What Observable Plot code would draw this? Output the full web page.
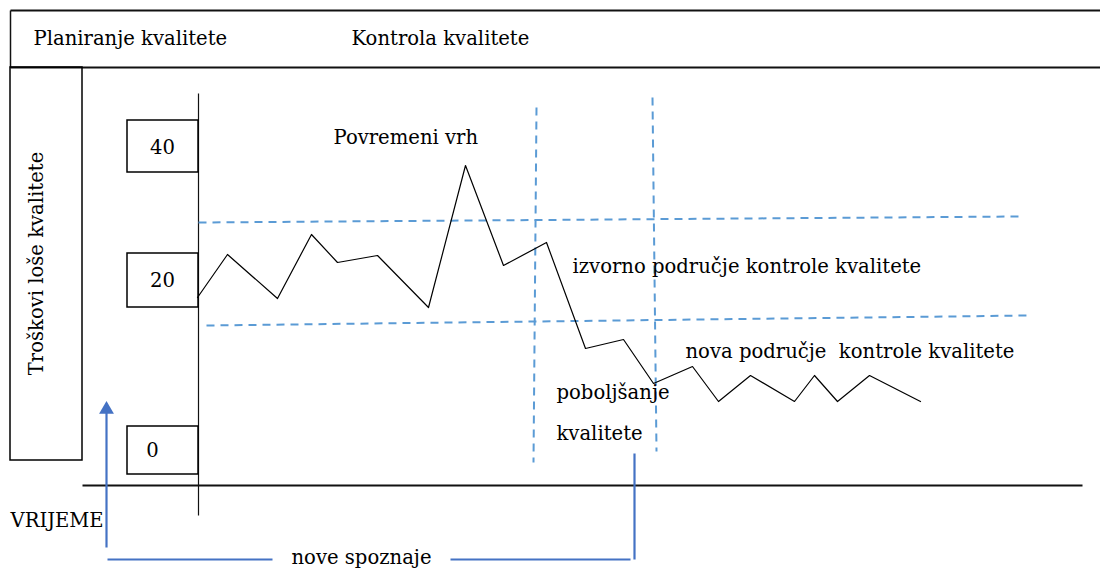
<!DOCTYPE html>
<html>
<head>
<meta charset="utf-8">
<script src="https://cdn.jsdelivr.net/npm/d3@7"></script>
<script src="https://cdn.jsdelivr.net/npm/@observablehq/plot@0.6"></script>
<style>
  html, body { margin: 0; padding: 0; background: #fff; }
  #chart svg { display: block; }
</style>
</head>
<body>
<div id="chart"></div>
<script>
// ---- Data (diagram units: x = time position, y = vertical position on the page) ----
// Cost-of-poor-quality path over time
const pathX = [197, 227, 277, 311, 337, 377, 428, 465, 503, 546, 585, 623, 653, 692, 718, 750, 794, 814, 837, 869, 920];
const pathY = [297, 254, 298, 234, 262, 255, 307, 165, 265, 242, 348, 339, 383, 366, 401, 375, 401, 375, 401, 375, 401];

// Value labels on the cost axis
const tickLabels = ["40", "20", "0"];
const tickBoxX1 = [127, 127, 127];
const tickBoxX2 = [198, 198, 198];
const tickBoxY1 = [120, 253, 426];
const tickBoxY2 = [172, 307, 474];
const tickTextX = [162, 162, 152];
const tickTextY = [147, 280, 450];

// Control limits (dashed)
const dashedLines = [
  {x1: 198, y1: 222, x2: 1018, y2: 216},   // upper limit, original zone
  {x1: 206, y1: 325, x2: 1028, y2: 315},   // lower limit / new upper
  {x1: 536, y1: 107, x2: 533, y2: 462},    // start of improvement
  {x1: 652, y1: 97,  x2: 656, y2: 451}     // end of improvement
];

// Frame lines (black)
const frameLines = [
  {x1: 10, y1: 10, x2: 1100, y2: 10, w: 2},
  {x1: 10, y1: 67, x2: 1100, y2: 67, w: 2},
  {x1: 10, y1: 10, x2: 10, y2: 67, w: 1.5},
  {x1: 198, y1: 93, x2: 198, y2: 515, w: 1.2},   // cost axis
  {x1: 82, y1: 485, x2: 1082, y2: 485, w: 2.2}   // time axis
];

// "nove spoznaje" bracket (blue)
const bracketLines = [
  {x1: 106, y1: 547, x2: 106, y2: 410},
  {x1: 107, y1: 559, x2: 272, y2: 559},
  {x1: 450, y1: 559, x2: 630, y2: 559},
  {x1: 634, y1: 453, x2: 634, y2: 559}
];
const arrowTip = [{x: 106, y: 409}];

// Text labels
const labels = [
  {text: "Planiranje kvalitete", x: 33, y: 38},
  {text: "Kontrola kvalitete", x: 351, y: 38},
  {text: "Povremeni vrh", x: 333, y: 137},
  {text: "izvorno područje kontrole kvalitete", x: 572, y: 266},
  {text: "nova područje \u00a0kontrole kvalitete", x: 685, y: 351},
  {text: "poboljšanje", x: 556, y: 392},
  {text: "kvalitete", x: 556, y: 433},
  {text: "VRIJEME", x: 10, y: 520}
];
const yAxisTitle = [{text: "Troškovi loše kvalitete", x: 36, y: 263}];
const bracketTitle = [{text: "nove spoznaje", x: 361, y: 557}];

// ---- Build tables ----
const path = pathX.map((x, i) => ({x, y: pathY[i]}));
const ticks = tickLabels.map((t, i) => ({
  t, x1: tickBoxX1[i], x2: tickBoxX2[i], y1: tickBoxY1[i], y2: tickBoxY2[i],
  tx: tickTextX[i], ty: tickTextY[i]
}));
const labelBox = [{x1: 10, x2: 82, y1: 67, y2: 460}];

const FONT = "DejaVu Serif";
const FS = 19.6;
const blue = "#4472C4";
const dashBlue = "#5B9BD5";

const chart = Plot.plot({
  width: 1100,
  height: 568,
  margin: 0,
  x: {domain: [0, 1100], range: [0, 1100], axis: null},
  y: {domain: [0, 568], range: [0, 568], axis: null},
  style: {background: "#fff", fontFamily: FONT, fontSize: FS + "px", color: "#000"},
  marks: [
    // frame
    Plot.link(frameLines, {x1: "x1", y1: "y1", x2: "x2", y2: "y2", stroke: "#111", strokeWidth: d => d.w}),
    Plot.rect(labelBox, {x1: "x1", x2: "x2", y1: "y1", y2: "y2", fill: "none", stroke: "#000", strokeWidth: 1.5}),
    // dashed control limits
    Plot.link(dashedLines, {x1: "x1", y1: "y1", x2: "x2", y2: "y2", stroke: dashBlue, strokeWidth: 2, strokeDasharray: "8,6"}),
    // value boxes
    Plot.rect(ticks, {x1: "x1", x2: "x2", y1: "y1", y2: "y2", fill: "white", stroke: "#000", strokeWidth: 1.5}),
    Plot.text(ticks, {x: "tx", y: "ty", text: "t", fontSize: FS, fontFamily: FONT, fill: "#000"}),
    // cost path
    Plot.line(path, {x: "x", y: "y", stroke: "#000", strokeWidth: 1.2, curve: "linear"}),
    // blue bracket
    Plot.link(bracketLines, {x1: "x1", y1: "y1", x2: "x2", y2: "y2", stroke: blue, strokeWidth: 2.2}),
    Plot.dot(arrowTip, {x: "x", y: "y", symbol: "triangle", r: 5.5, fill: blue, stroke: "none"}),
    // texts
    Plot.text(labels, {x: "x", y: "y", text: "text", textAnchor: "start", fontSize: FS, fontFamily: FONT, fill: "#000"}),
    Plot.text(yAxisTitle, {x: "x", y: "y", text: "text", rotate: -90, fontSize: FS, fontFamily: FONT, fill: "#000"}),
    Plot.text(bracketTitle, {x: "x", y: "y", text: "text", fontSize: FS, fontFamily: FONT, fill: "#000"})
  ]
});
document.getElementById("chart").append(chart);
</script>
</body>
</html>
